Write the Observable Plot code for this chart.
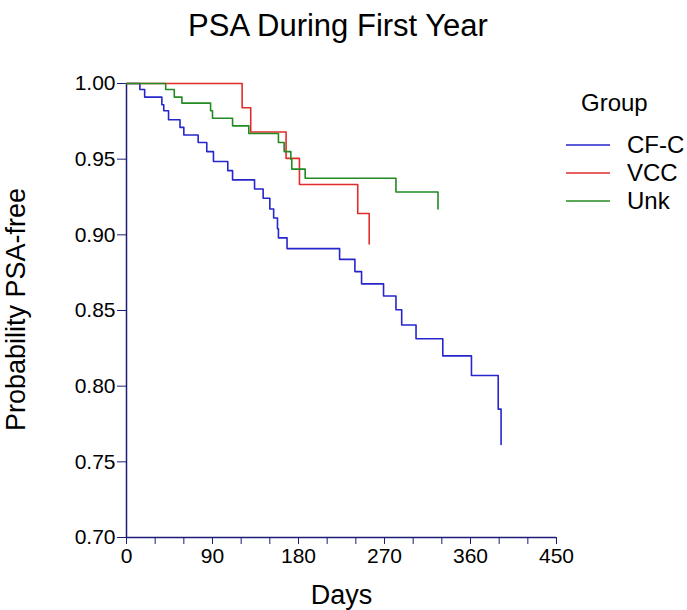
<!DOCTYPE html>
<html>
<head>
<meta charset="utf-8">
<script src="https://cdn.jsdelivr.net/npm/d3@7"></script>
<script src="https://cdn.jsdelivr.net/npm/@observablehq/plot@0.6"></script>
<style>
  body { margin: 0; background: white; font-family: "Liberation Sans", Arial, sans-serif; }
  #wrap { position: relative; width: 687px; height: 610px; }
  #title { position: absolute; left: 0; top: 8px; width: 676px; text-align: center; font-size: 31px; line-height: 36px; color: #000; }
  #chart { position: absolute; left: 0; top: 60px; }
  #legend { position: absolute; left: 566px; top: 88px; font-size: 24px; color: #000; }
  #legend .hd { margin-left: 15px; height: 43px; line-height: 30px; }
  #legend .row { display: flex; align-items: center; height: 28px; }
  #legend svg { margin-right: 17px; }
</style>
</head>
<body>
<div id="wrap">
  <div id="title">PSA During First Year</div>
  <div id="chart"></div>
  <div id="legend"></div>
</div>
<script>
// ---- data ----
const groups = ["CF-C", "VCC", "Unk"];
const colors = ["#2626cc", "#e22b2b", "#228a22"];

const cfcDays = [14, 19, 37, 39, 44, 56, 60, 75, 84, 91, 106, 111, 134, 143, 150, 154, 158, 159, 168, 223, 239, 246, 269, 282, 288, 303, 331, 361, 389, 392];
const cfcProb = [0.996, 0.991, 0.986, 0.982, 0.976, 0.971, 0.966, 0.961, 0.955, 0.9485, 0.9424, 0.9363, 0.9303, 0.9242, 0.9171, 0.9111, 0.904, 0.898, 0.8909, 0.8838, 0.8757, 0.8676, 0.8596, 0.8505, 0.8404, 0.8313, 0.820, 0.807, 0.7848, 0.7615];

const vccDays = [121, 130, 167, 181, 242, 254];
const vccProb = [0.984, 0.968, 0.9505, 0.9333, 0.9141, 0.8939];

const unkDays = [41, 50, 58, 88, 90, 111, 128, 159, 165, 172, 173, 187, 282, 326];
const unkProb = [0.996, 0.991, 0.987, 0.982, 0.977, 0.972, 0.967, 0.961, 0.955, 0.950, 0.9434, 0.9374, 0.9283, 0.9171];

const xTicks = [0, 30, 60, 90, 120, 150, 180, 210, 240, 270, 300, 330, 360, 390, 420, 450];
const xLabels = [0, 90, 180, 270, 360, 450];
const yTicks = [0.70, 0.75, 0.80, 0.85, 0.90, 0.95, 1.00];

const title = "PSA During First Year";
const xTitle = "Days";
const yTitle = "Probability PSA-free";
const legendTitle = "Group";

// ---- build table ----
function series(name, days, prob) {
  return [{group: name, day: 0, p: 1}].concat(days.map((d, i) => ({group: name, day: d, p: prob[i]})));
}
const data = [
  ...series("CF-C", cfcDays, cfcProb),
  ...series("VCC", vccDays, vccProb),
  ...series("Unk", unkDays, unkProb)
];

const axisColor = "#1c1c78";

document.getElementById("title").textContent = title;

const chart = Plot.plot({
  width: 687,
  height: 550,
  marginLeft: 126,
  marginRight: 131,
  marginTop: 23,
  marginBottom: 73,
  style: {fontFamily: "'Liberation Sans', Arial, sans-serif", background: "white", color: "black"},
  x: {domain: [0, 450]},
  y: {domain: [0.70, 1.00]},
  color: {domain: groups, range: colors},
  marks: [
    Plot.axisY({ticks: yTicks, tickFormat: d3.format(".2f"), tickSize: 9, tickPadding: 2, stroke: axisColor, fill: "black", fontSize: 21, label: null}),
    Plot.axisX({ticks: xTicks, tickFormat: d => xLabels.includes(d) ? String(d) : "", tickSize: 7, tickPadding: 4, stroke: axisColor, fill: "black", fontSize: 21, label: null}),
    Plot.ruleX([0], {stroke: axisColor, strokeWidth: 1.5}),
    Plot.ruleY([0.70], {stroke: axisColor, strokeWidth: 1.5}),
    Plot.line(data, {x: "day", y: "p", z: "group", stroke: "group", curve: "step-after", strokeWidth: 1.6}),
    Plot.text([yTitle], {frameAnchor: "left", textAnchor: "middle", lineAnchor: "middle", rotate: -90, dx: -110, dy: -1, fontSize: 27, fill: "black"}),
    Plot.text([xTitle], {frameAnchor: "bottom", lineAnchor: "middle", dy: 58, fontSize: 27, fill: "black"})
  ]
});
document.getElementById("chart").appendChild(chart);

// legend
const leg = document.getElementById("legend");
const hd = document.createElement("div");
hd.className = "hd";
hd.textContent = legendTitle;
leg.appendChild(hd);
groups.forEach((g, i) => {
  const row = document.createElement("div");
  row.className = "row";
  const s = d3.create("svg").attr("width", 44).attr("height", 10);
  s.append("line").attr("x1", 0).attr("x2", 44).attr("y1", 5).attr("y2", 5).attr("stroke", colors[i]).attr("stroke-width", 1.3);
  row.appendChild(s.node());
  const t = document.createElement("span");
  t.textContent = g;
  row.appendChild(t);
  leg.appendChild(row);
});
</script>
</body>
</html>
